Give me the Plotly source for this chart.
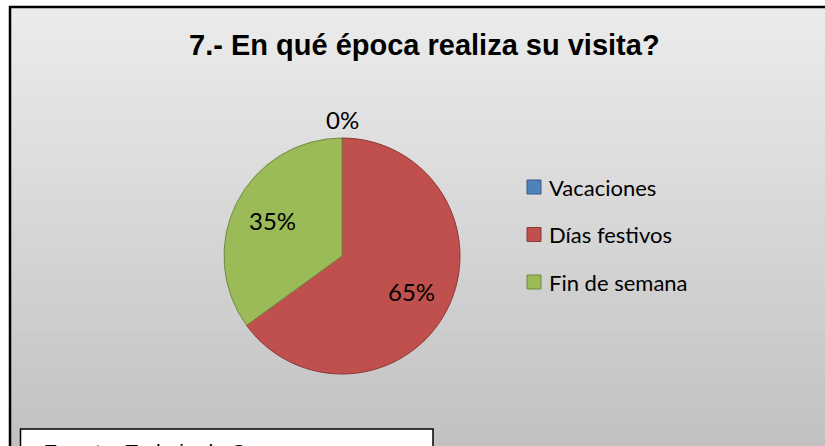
import math
import plotly.graph_objects as go

# ---- data ----
categories = ["Vacaciones", "Días festivos", "Fin de semana"]
values = [0, 65, 35]
colors = ["#4F81BD", "#C0504D", "#9BBB59"]
edge_colors = ["#385D8A", "#8C3836", "#71893F"]
title_text = "7.- En qué época realiza su visita?"
source_text = "<b>Fuente:</b> Trabajo de Campo"

W, H = 825, 446


def px(x):
    return x / W


def py(y):
    return 1 - y / H


# pie geometry (pixels)
CX, CY, R = 342, 256, 118

fig = go.Figure()

fig.add_trace(go.Pie(
    labels=categories,
    values=values,
    sort=False,
    direction="clockwise",
    rotation=0,
    marker=dict(colors=colors, line=dict(color=edge_colors, width=1)),
    textinfo="none",
    domain=dict(x=[px(CX - R), px(CX + R)], y=[py(CY + R), py(CY - R)]),
    showlegend=False,
    hoverinfo="label+percent",
))

annotations = []
# data labels placed at slice mid-angles (derived from values)
total = sum(values)
cum = 0
for v in values:
    frac = v / total
    theta = 2 * math.pi * (cum + frac / 2)
    cum += frac
    rr = 0.66 * R if frac > 0.02 else R + 19
    lx = CX + rr * math.sin(theta)
    ly = CY - rr * math.cos(theta)
    annotations.append(dict(text=f"{round(frac * 100)}%", x=px(lx), y=py(ly),
                            xref="paper", yref="paper", xanchor="center",
                            yanchor="middle", showarrow=False,
                            font=dict(family="Lato", size=24, color="black")))

shapes = []
# background gradient
n = 60
top, bottom = 8, 446
c_top, c_bot = 236, 193
for i in range(n):
    y0 = top + (bottom - top) * i / n
    y1 = top + (bottom - top) * (i + 1) / n + 0.5
    c = round(c_top + (c_bot - c_top) * (i + 0.5) / n)
    shapes.append(dict(type="rect", xref="paper", yref="paper",
                       x0=px(10), x1=px(840), y0=py(y0), y1=py(y1),
                       fillcolor=f"rgb({c},{c},{c})", line=dict(width=0),
                       layer="below"))
# chart frame
shapes.append(dict(type="rect", xref="paper", yref="paper",
                   x0=px(10), x1=px(840), y0=py(7), y1=py(470),
                   line=dict(color="black", width=2.5), layer="above"))
# source box
shapes.append(dict(type="rect", xref="paper", yref="paper",
                   x0=px(20.5), x1=px(433), y0=py(429), y1=py(480),
                   fillcolor="white", line=dict(color="black", width=1.5),
                   layer="above"))

# legend
for i, (lab, col, ec) in enumerate(zip(categories, colors, edge_colors)):
    yc = 187 + i * 47.5
    shapes.append(dict(type="rect", xref="paper", yref="paper",
                       x0=px(527), x1=px(541), y0=py(yc - 7), y1=py(yc + 7),
                       fillcolor=col, line=dict(color=ec, width=1),
                       layer="above"))
    annotations.append(dict(text=lab, x=px(547), y=py(yc), xref="paper",
                            yref="paper", xanchor="left", yanchor="middle",
                            showarrow=False,
                            font=dict(family="Lato", size=22, color="black")))

annotations.append(dict(text=f"<b>{title_text}</b>", x=px(424), y=py(45),
                        xref="paper", yref="paper", xanchor="center",
                        yanchor="middle", showarrow=False,
                        font=dict(family="Liberation Sans", size=29,
                                  color="black")))
annotations.append(dict(text=source_text, x=px(42), y=py(438),
                        xref="paper", yref="paper", xanchor="left",
                        yanchor="top", showarrow=False,
                        font=dict(family="Liberation Sans", size=21,
                                  color="black")))

fig.update_layout(
    width=W, height=H,
    margin=dict(l=0, r=0, t=0, b=0),
    paper_bgcolor="white",
    plot_bgcolor="white",
    shapes=shapes,
    annotations=annotations,
    showlegend=False,
)

fig.write_html("out.html",
               config={"displayModeBar": False},
               post_script="document.body.style.margin='0';"
                           "document.body.style.overflow='hidden';")
